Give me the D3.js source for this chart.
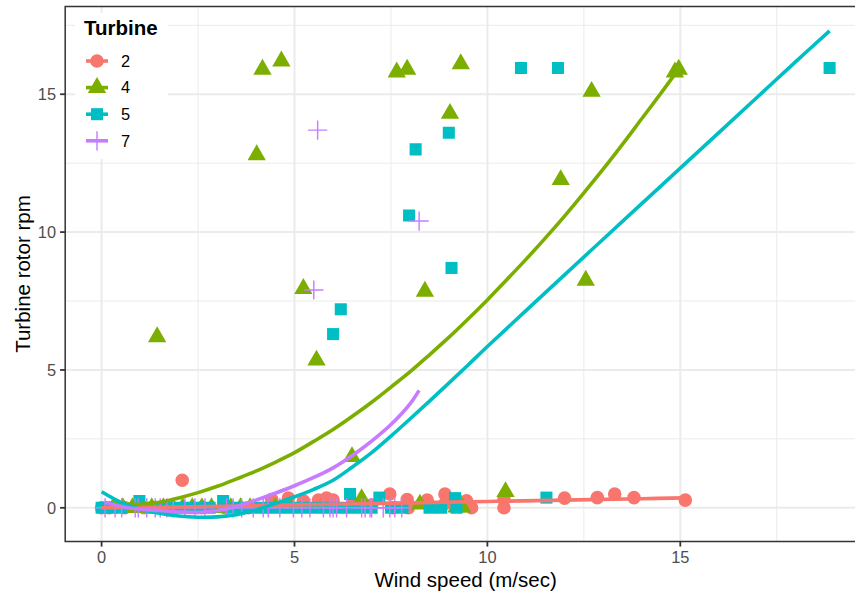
<!DOCTYPE html>
<html>
<head>
<meta charset="utf-8">
<script src="https://cdn.jsdelivr.net/npm/d3@7"></script>
<style>
  body { margin: 0; background: #ffffff; }
  svg { display: block; }
  text { font-family: "Liberation Sans", Arial, Helvetica, sans-serif; }
</style>
</head>
<body>
<svg id="chart" width="855" height="596"></svg>
<script>
// ---- data -------------------------------------------------------------
const turbines = ["2", "4", "5", "7"];
const colours  = ["#F8766D", "#7CAE00", "#00BFC4", "#C77CFF"];
const xTicks = [0, 5, 10, 15];
const yTicks = [0, 5, 10, 15];

// Turbine 2 observations
const wind2 = [0.0, 0.2, 0.6, 1.1, 1.6, 2.09, 2.6, 3.2, 3.8, 4.41, 4.84, 5.23, 5.62, 5.83, 6.0, 6.5,
               7.0, 7.47, 7.55, 7.92, 7.95, 8.44, 8.9, 8.9, 9.05, 9.2, 9.46, 9.59, 10.43, 10.43,
               12.0, 12.85, 13.3, 13.8, 15.13];
const rpm2  = [0, 0, 0, 0, 0, 1.0, 0, 0, 0, 0.3, 0.35, 0.25, 0.28, 0.35, 0.28, 0.1,
               0.1, 0.5, 0, 0.3, 0, 0.28, 0.5, 0.15, 0.3, 0.3, 0.25, 0.0, 0.3, 0.0,
               0.35, 0.37, 0.5, 0.37, 0.28];

// Turbine 4 observations
const wind4 = [0.3, 0.55, 0.8, 1.05, 1.3, 1.6, 1.85, 2.1, 2.35, 2.6, 2.85, 3.1, 3.35, 3.6, 3.85, 4.5, 4.9,
               6.74, 8.25, 9.2, 9.35,
               1.44, 4.02, 4.17, 4.66, 5.23, 5.57, 6.49, 7.65, 7.92, 8.38, 9.03, 9.31, 10.47,
               11.9, 12.55, 12.7, 14.86, 14.96];
const rpm4  = [0, 0, 0, 0, 0, 0, 0, 0, 0, 0, 0, 0, 0, 0, 0, 0, 0,
               0.33, 0.13, 0.02, 0.02,
               6.2, 12.8, 15.9, 16.2, 7.95, 5.35, 1.85, 15.8, 15.9, 7.85, 14.3, 16.1, 0.58,
               11.9, 8.25, 15.1, 15.8, 15.9];

// Turbine 5 observations
const wind5 = [0.0, 0.25, 0.5, 0.98, 1.3, 1.6, 1.9, 2.2, 2.5, 2.8, 3.15, 3.4, 3.7, 4.0, 4.3, 4.6, 4.9,
               5.2, 5.5, 5.8, 6.1, 6.4, 6.44, 6.7, 7.0, 7.2, 7.5, 7.8, 8.5, 8.8, 9.16, 9.2, 11.53,
               6.0, 6.2, 7.97, 8.14, 9.0, 9.07, 10.87, 11.83, 18.87];
const rpm5  = [0, 0, 0, 0.25, 0, 0, 0, 0, 0, 0, 0.25, 0, 0, 0, 0, 0, 0,
               0, 0, 0, 0, 0, 0.5, 0, 0, 0.37, 0, 0, 0, 0, 0.35, 0, 0.37,
               6.3, 7.2, 10.6, 13.0, 13.6, 8.7, 15.95, 15.95, 15.95];

// Turbine 7 observations
const wind7 = [0.09, 0.35, 0.52, 0.87, 0.95, 1.17, 1.39, 1.52, 1.69, 1.86, 2.16, 2.42, 2.68, 3.24, 3.41,
               3.63, 3.93, 4.19, 4.32, 4.62, 4.97, 5.19, 5.4, 5.75, 5.92, 6.0, 6.09, 6.35, 6.74, 6.83,
               6.96, 7.0, 7.3, 7.47, 7.6, 7.78,
               5.5, 5.6, 8.23];
const rpm7  = [0, 0, 0, 0, 0, 0, 0, 0, 0, 0, 0, 0, 0, 0, 0,
               0, 0, 0, 0, 0, 0, 0, 0, 0, 0, 0, 0, 0, 0, 0,
               0, 0, 0, 0, 0, 0,
               7.9, 13.7, 10.4];

// Smoothed trend per turbine
const fitX2 = [0, 2, 4, 6, 8, 10, 12, 14, 15.13];
const fitY2 = [0.0, 0.03, 0.08, 0.13, 0.18, 0.23, 0.28, 0.33, 0.36];

const fitX4 = [0.3, 0.6, 1, 1.5, 2, 2.5, 3, 3.5, 4, 4.5, 5, 5.5, 6, 6.5, 7, 7.5, 8, 8.5, 9, 9.5,
               10, 10.5, 11, 11.5, 12, 12.5, 13, 13.5, 14, 14.5, 14.96];
const fitY4 = [0.2, 0.15, 0.13, 0.2, 0.36, 0.55, 0.78, 1.05, 1.33, 1.65, 2.0, 2.41, 2.84, 3.32, 3.83,
               4.38, 4.94, 5.55, 6.18, 6.85, 7.54, 8.27, 9.01, 9.78, 10.58, 11.42, 12.28, 13.18,
               14.11, 15.04, 15.92];

const fitX5 = [0, 0.5, 1, 1.5, 2, 2.5, 3, 3.5, 4, 4.5, 5, 5.5, 6, 6.5, 7, 7.5, 8, 8.5, 9, 9.5,
               10, 11, 12, 13, 14, 15, 16, 17, 18, 18.87];
const fitY5 = [0.58, 0.2, -0.05, -0.2, -0.3, -0.34, -0.33, -0.25, -0.08, 0.15, 0.4, 0.67, 1.0, 1.48,
               2.0, 2.6, 3.23, 3.87, 4.52, 5.18, 5.85, 7.15, 8.45, 9.74, 11.03, 12.32, 13.61, 14.9,
               16.19, 17.3];

const fitX7 = [0.09, 0.5, 1, 1.5, 2, 2.5, 3, 3.5, 4, 4.5, 5, 5.5, 6, 6.5, 7, 7.5, 8, 8.23];
const fitY7 = [0.2, 0.05, -0.05, -0.1, -0.15, -0.17, -0.1, 0.05, 0.28, 0.53, 0.8, 1.1, 1.45, 1.9,
               2.42, 3.02, 3.78, 4.26];

// ---- assemble per-turbine records ---------------------------------------
const windSets = [wind2, wind4, wind5, wind7];
const rpmSets  = [rpm2, rpm4, rpm5, rpm7];
const fitXSets = [fitX2, fitX4, fitX5, fitX7];
const fitYSets = [fitY2, fitY4, fitY5, fitY7];
const shapes   = ["circle", "triangle", "square", "cross"];

const groups = turbines.map((t, i) => ({
  name: t,
  colour: colours[i],
  shape: shapes[i],
  points: windSets[i].map((w, j) => ({ x: w, y: rpmSets[i][j] })),
  fit: fitXSets[i].map((w, j) => ({ x: w, y: fitYSets[i][j] }))
}));

// ---- layout -------------------------------------------------------------
const panel = { left: 65.2, right: 866, top: 6.5, bottom: 541.5 };
const svg = d3.select("#chart");

const allX = groups.flatMap(g => g.points.map(p => p.x).concat(g.fit.map(p => p.x)));
const allY = groups.flatMap(g => g.points.map(p => p.y).concat(g.fit.map(p => p.y)));
const expand = ([a, b]) => { const d = (b - a) * 0.05; return [a - d, b + d]; };

const x = d3.scaleLinear().domain(expand(d3.extent(allX))).range([panel.left, panel.right]);
const y = d3.scaleLinear().domain(expand(d3.extent(allY))).range([panel.bottom, panel.top]);

const minorOf = (scale, ticks) => {
  const step = ticks[1] - ticks[0];
  const [lo, hi] = scale.domain();
  const out = [];
  for (let v = ticks[0] - step / 2; v <= hi; v += step) if (v >= lo) out.push(v);
  return out;
};

svg.append("rect").attr("width", 855).attr("height", 596).attr("fill", "#ffffff");

svg.append("clipPath").attr("id", "panelClip")
  .append("rect")
  .attr("x", panel.left).attr("y", panel.top)
  .attr("width", panel.right - panel.left).attr("height", panel.bottom - panel.top);

const plot = svg.append("g").attr("clip-path", "url(#panelClip)");

// grid
const grid = plot.append("g");
grid.selectAll(".vminor").data(minorOf(x, xTicks)).join("line")
  .attr("x1", d => x(d)).attr("x2", d => x(d))
  .attr("y1", panel.top).attr("y2", panel.bottom)
  .attr("stroke", "#EBEBEB").attr("stroke-width", 1);
grid.selectAll(".hminor").data(minorOf(y, yTicks)).join("line")
  .attr("y1", d => y(d)).attr("y2", d => y(d))
  .attr("x1", panel.left).attr("x2", panel.right)
  .attr("stroke", "#EBEBEB").attr("stroke-width", 1);
grid.selectAll(".vmajor").data(xTicks).join("line")
  .attr("x1", d => x(d)).attr("x2", d => x(d))
  .attr("y1", panel.top).attr("y2", panel.bottom)
  .attr("stroke", "#EBEBEB").attr("stroke-width", 2);
grid.selectAll(".hmajor").data(yTicks).join("line")
  .attr("y1", d => y(d)).attr("y2", d => y(d))
  .attr("x1", panel.left).attr("x2", panel.right)
  .attr("stroke", "#EBEBEB").attr("stroke-width", 2);

// point shapes (R pch 16, 17, 15, 3)
const R = 6.8;
function shapePath(shape) {
  switch (shape) {
    case "circle":
      return `M${-R},0A${R},${R} 0 1,0 ${R},0A${R},${R} 0 1,0 ${-R},0Z`;
    case "triangle": {
      const r = 1.555 * R, xc = 1.347 * R, yc = 0.778 * R;
      return `M0,${-r}L${xc},${yc}L${-xc},${yc}Z`;
    }
    case "square": {
      const h = 0.886 * R;
      return `M${-h},${-h}H${h}V${h}H${-h}Z`;
    }
    case "cross": {
      const h = 1.414 * R;
      return `M${-h},0H${h}M0,${-h}V${h}`;
    }
  }
}
function styleShape(sel, g) {
  if (g.shape === "cross") {
    sel.attr("fill", "none").attr("stroke", g.colour).attr("stroke-width", 1.4);
  } else {
    sel.attr("fill", g.colour).attr("stroke", "none");
  }
}

groups.forEach(g => {
  plot.append("g").selectAll("path").data(g.points).join("path")
    .attr("transform", d => `translate(${x(d.x)},${y(d.y)})`)
    .attr("d", shapePath(g.shape))
    .call(styleShape, g);
});

// smoothed trends
const line = d3.line().x(d => x(d.x)).y(d => y(d.y)).curve(d3.curveCatmullRom.alpha(0.5));
groups.forEach(g => {
  plot.append("path").datum(g.fit)
    .attr("d", line)
    .attr("fill", "none")
    .attr("stroke", g.colour)
    .attr("stroke-width", 3.6)
    .attr("stroke-linejoin", "round");
});

// panel border
svg.append("rect")
  .attr("x", panel.left).attr("y", panel.top)
  .attr("width", panel.right - panel.left).attr("height", panel.bottom - panel.top)
  .attr("fill", "none").attr("stroke", "#333333").attr("stroke-width", 1.5);

// axes
const tickLen = 5.1, tickCol = "#333333", labelCol = "#4D4D4D";
const xAxis = svg.append("g");
xAxis.selectAll("line").data(xTicks).join("line")
  .attr("x1", d => x(d)).attr("x2", d => x(d))
  .attr("y1", panel.bottom).attr("y2", panel.bottom + tickLen)
  .attr("stroke", tickCol).attr("stroke-width", 1.8);
xAxis.selectAll("text").data(xTicks).join("text")
  .attr("x", d => x(d)).attr("y", 563.3)
  .attr("text-anchor", "middle").attr("font-size", 16.4).attr("fill", labelCol)
  .text(d => d);

const yAxis = svg.append("g");
yAxis.selectAll("line").data(yTicks).join("line")
  .attr("y1", d => y(d)).attr("y2", d => y(d))
  .attr("x1", panel.left - tickLen).attr("x2", panel.left)
  .attr("stroke", tickCol).attr("stroke-width", 1.8);
yAxis.selectAll("text").data(yTicks).join("text")
  .attr("x", panel.left - tickLen - 4).attr("y", d => y(d) + 5.9)
  .attr("text-anchor", "end").attr("font-size", 16.4).attr("fill", labelCol)
  .text(d => d);

svg.append("text")
  .attr("x", (panel.left + panel.right) / 2).attr("y", 586.7)
  .attr("text-anchor", "middle").attr("font-size", 20.5).attr("fill", "#000000")
  .text("Wind speed (m/sec)");

svg.append("text")
  .attr("transform", `translate(29.5,${(panel.top + panel.bottom) / 2}) rotate(-90)`)
  .attr("text-anchor", "middle").attr("font-size", 20.5).attr("fill", "#000000")
  .text("Turbine rotor rpm");

// legend
const legend = svg.append("g");
legend.append("rect")
  .attr("x", 75).attr("y", 13).attr("width", 93).attr("height", 146)
  .attr("fill", "#ffffff");
legend.append("text")
  .attr("x", 84).attr("y", 35)
  .attr("font-size", 20.5).attr("font-weight", "bold").attr("fill", "#000000")
  .text("Turbine");

const keyY = i => 61 + i * 26.6;
groups.forEach((g, i) => {
  const k = legend.append("g").attr("transform", `translate(0,${keyY(i)})`);
  k.append("line").attr("x1", 86).attr("x2", 108).attr("y1", 0).attr("y2", 0)
    .attr("stroke", g.colour).attr("stroke-width", 3.6);
  k.append("path").attr("transform", "translate(97,0)")
    .attr("d", shapePath(g.shape)).call(styleShape, g);
  k.append("text").attr("x", 121).attr("y", 5.8)
    .attr("font-size", 16.4).attr("fill", "#000000").text(g.name);
});
</script>
</body>
</html>
